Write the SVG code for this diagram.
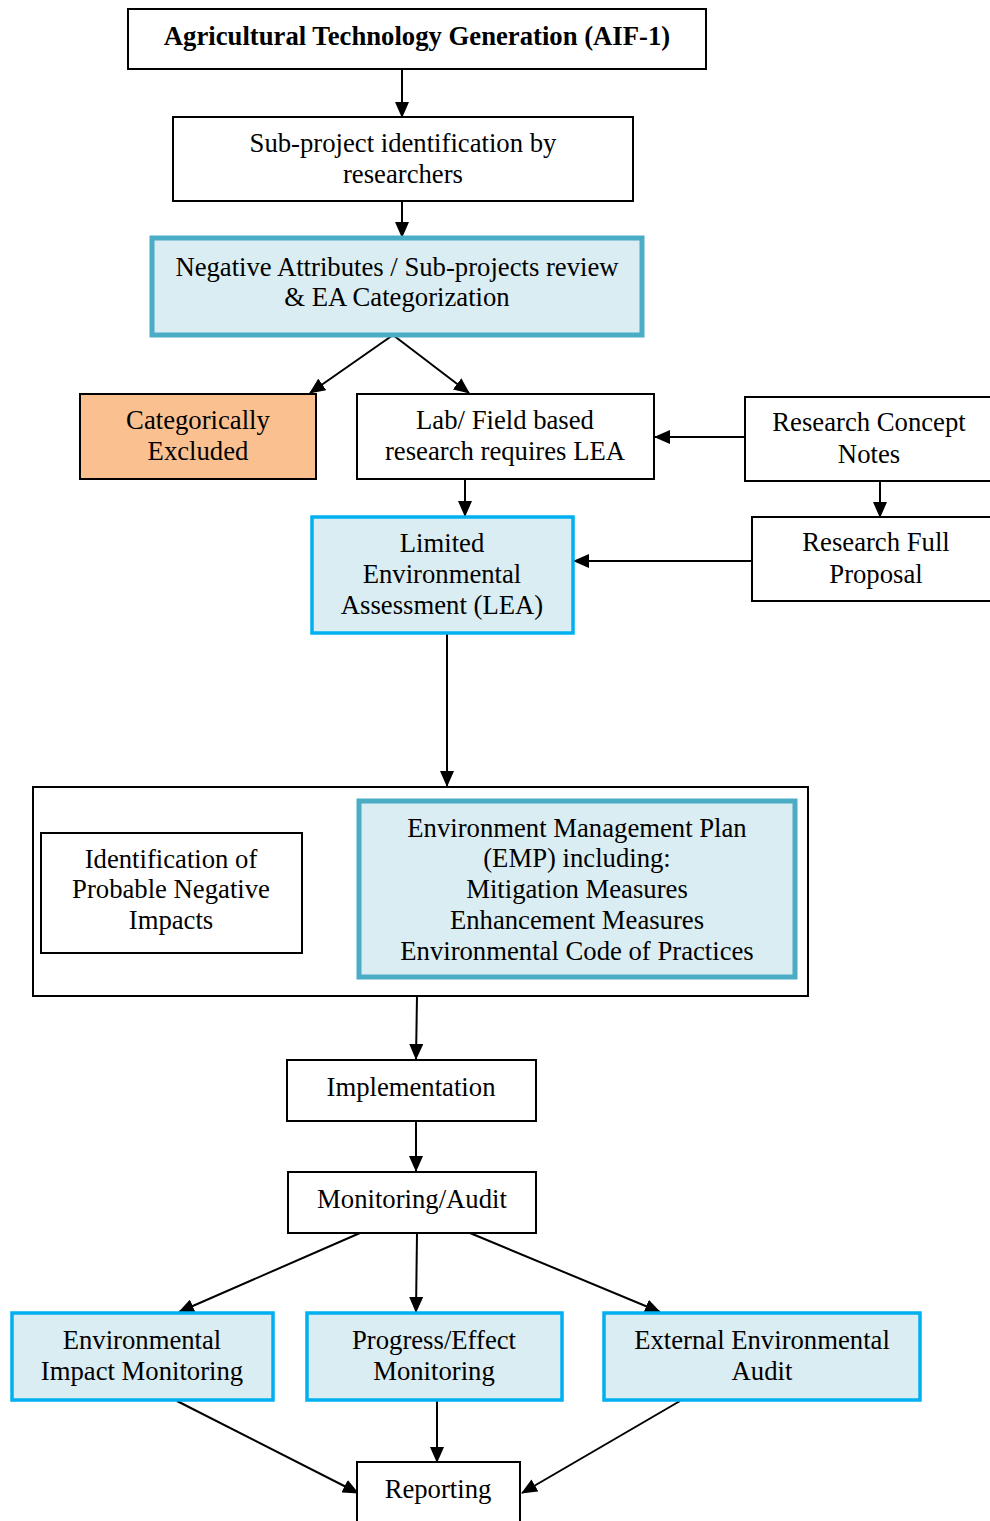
<svg xmlns="http://www.w3.org/2000/svg" width="990" height="1521" viewBox="0 0 990 1521">
<defs>
<marker id="ah" markerWidth="16" markerHeight="14" refX="15" refY="7" orient="auto" markerUnits="userSpaceOnUse">
<path d="M0,0 L16,7 L0,14 Z" fill="#000"/>
</marker>
<style>
text{font-family:"Liberation Serif","Times New Roman",serif;font-size:26.7px;fill:#000;text-anchor:middle;}
.b{font-weight:bold;}
.plain{fill:#fff;stroke:#000;stroke-width:2;}
.orange{fill:#fac090;stroke:#000;stroke-width:2;}
.teal{fill:#daedf3;stroke:#4bacc6;stroke-width:5;}
.cyan{fill:#daedf3;stroke:#00b0f0;stroke-width:3.5;}
.c{fill:none;stroke:#000;stroke-width:2;marker-end:url(#ah);}
</style>
</defs>
<rect width="990" height="1521" fill="#fff"/>
<g id="connectors">
<line class="c" x1="402" y1="69" x2="402" y2="117"/>
<line class="c" x1="402" y1="201" x2="402" y2="237"/>
<line class="c" x1="393" y1="335" x2="310" y2="393"/>
<line class="c" x1="393" y1="335" x2="469" y2="393"/>
<line class="c" x1="745" y1="437" x2="655" y2="437"/>
<line class="c" x1="880" y1="481" x2="880" y2="517"/>
<line class="c" x1="465" y1="479" x2="465" y2="516"/>
<line class="c" x1="752" y1="561" x2="574" y2="561"/>
<line class="c" x1="447" y1="633" x2="447" y2="786"/>
<line class="c" x1="302" y1="897" x2="358" y2="897"/>
<line class="c" x1="417" y1="996" x2="416" y2="1059"/>
<line class="c" x1="416" y1="1121" x2="416" y2="1171"/>
<line class="c" x1="360" y1="1233" x2="179" y2="1312"/>
<line class="c" x1="417" y1="1233" x2="416" y2="1312"/>
<line class="c" x1="470" y1="1233" x2="660" y2="1312"/>
<line class="c" x1="177" y1="1401" x2="358" y2="1493"/>
<line class="c" x1="437" y1="1401" x2="437" y2="1462"/>
<line class="c" x1="680" y1="1401" x2="522" y2="1493"/>
</g>
<g id="n-aif">
<rect class="plain" x="128" y="9" width="578" height="60"/>
<text class="b" x="417" y="45">Agricultural Technology Generation (AIF-1)</text>
</g>
<g id="n-subproject">
<rect class="plain" x="173" y="117" width="460" height="84"/>
<text x="403" y="152">Sub-project identification by</text>
<text x="403" y="183">researchers</text>
</g>
<g id="n-negative">
<rect class="teal" x="152" y="238" width="490" height="97"/>
<text x="397" y="276">Negative Attributes / Sub-projects review</text>
<text x="397" y="306">&amp; EA Categorization</text>
</g>
<g id="n-excluded">
<rect class="orange" x="80" y="394" width="236" height="85"/>
<text x="198" y="429">Categorically</text>
<text x="198" y="460">Excluded</text>
</g>
<g id="n-lab">
<rect class="plain" x="357" y="394" width="297" height="85"/>
<text x="505" y="429">Lab/ Field based</text>
<text x="505" y="460">research requires LEA</text>
</g>
<g id="n-concept">
<rect class="plain" x="745" y="397" width="250" height="84"/>
<text x="869" y="431">Research Concept</text>
<text x="869" y="463">Notes</text>
</g>
<g id="n-full">
<rect class="plain" x="752" y="517" width="245" height="84"/>
<text x="876" y="551">Research Full</text>
<text x="876" y="583">Proposal</text>
</g>
<g id="n-lea">
<rect class="cyan" x="312" y="517" width="261" height="116"/>
<text x="442" y="552">Limited</text>
<text x="442" y="583">Environmental</text>
<text x="442" y="614">Assessment (LEA)</text>
</g>
<g id="n-outer">
<rect class="plain" x="33" y="787" width="775" height="209"/>
</g>
<g id="n-identification">
<rect class="plain" x="41" y="833" width="261" height="120"/>
<text x="171" y="868">Identification of</text>
<text x="171" y="898">Probable Negative</text>
<text x="171" y="929">Impacts</text>
</g>
<g id="n-emp">
<rect class="teal" x="359" y="801" width="436" height="176"/>
<text x="577" y="837">Environment Management Plan</text>
<text x="577" y="867">(EMP) including:</text>
<text x="577" y="898">Mitigation Measures</text>
<text x="577" y="929">Enhancement Measures</text>
<text x="577" y="960">Environmental Code of Practices</text>
</g>
<g id="n-implementation">
<rect class="plain" x="287" y="1060" width="249" height="61"/>
<text x="411" y="1096">Implementation</text>
</g>
<g id="n-monitoring">
<rect class="plain" x="288" y="1172" width="248" height="61"/>
<text x="412" y="1208">Monitoring/Audit</text>
</g>
<g id="n-eim">
<rect class="cyan" x="12" y="1313" width="261" height="87"/>
<text x="142" y="1349">Environmental</text>
<text x="142" y="1380">Impact Monitoring</text>
</g>
<g id="n-progress">
<rect class="cyan" x="307" y="1313" width="255" height="87"/>
<text x="434" y="1349">Progress/Effect</text>
<text x="434" y="1380">Monitoring</text>
</g>
<g id="n-external">
<rect class="cyan" x="604" y="1313" width="316" height="87"/>
<text x="762" y="1349">External Environmental</text>
<text x="762" y="1380">Audit</text>
</g>
<g id="n-reporting">
<rect class="plain" x="357" y="1462" width="163" height="70"/>
<text x="438" y="1498">Reporting</text>
</g>
</svg>
